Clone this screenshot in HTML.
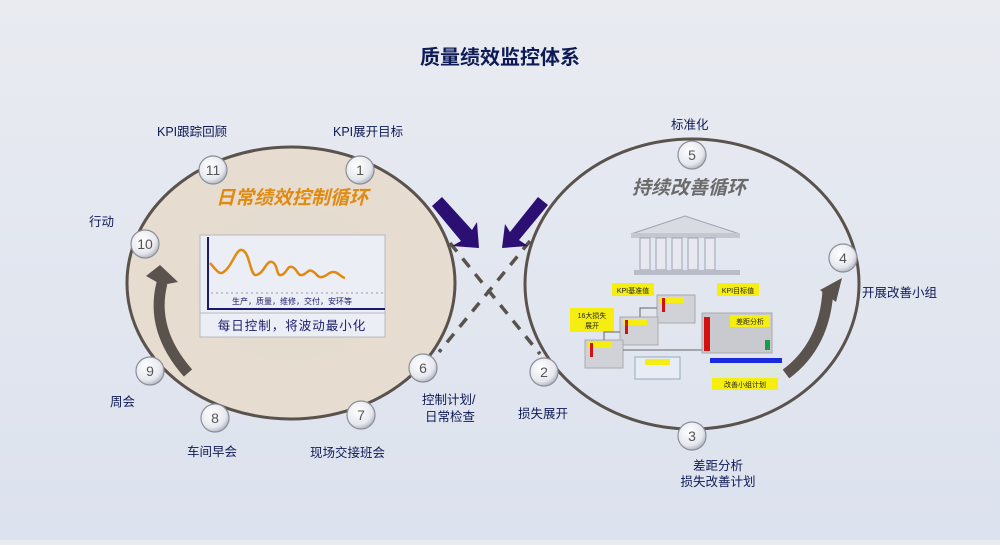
<!DOCTYPE html>
<html><head><meta charset="utf-8"><style>
html,body{margin:0;padding:0}
body{width:1000px;height:540px;overflow:hidden;background:linear-gradient(#e9ebf1,#dce2ee);}
svg text{font-family:"Liberation Sans","Noto Sans CJK SC",sans-serif;}
</style></head><body>
<svg width="1000" height="540" viewBox="0 0 1000 540" xmlns="http://www.w3.org/2000/svg">
<defs>
<radialGradient id="nd" cx="0.4" cy="0.35" r="0.7"><stop offset="0" stop-color="#ffffff"/><stop offset="0.7" stop-color="#e6e8ee"/><stop offset="1" stop-color="#a9adb8"/></radialGradient>
<radialGradient id="lf" cx="0.5" cy="0.5" r="0.6"><stop offset="0" stop-color="#e3dbd1"/><stop offset="1" stop-color="#e8ddd0"/></radialGradient>
</defs>
<text x="500" y="64" text-anchor="middle" font-size="20" font-weight="bold" fill="#0d1a55">质量绩效监控体系</text>

<ellipse cx="291" cy="283" rx="164" ry="136" fill="url(#lf)" stroke="#5a524c" stroke-width="3"/>
<ellipse cx="692" cy="284" rx="167" ry="145" fill="none" stroke="#5a524c" stroke-width="3"/>

<g stroke="#5a524c" stroke-width="3.5" stroke-dasharray="11,9" fill="none">
<line x1="450" y1="243" x2="540" y2="354"/>
<line x1="530" y1="241" x2="439" y2="352"/>
</g>
<g fill="#2c0f73">
<polygon points="432,206 442,197 472,230 477,222 479,248 452,246 461,241"/>
<polygon points="548,205 538,197 510,232 505,224 502,248 528,246 519,240"/>
</g>

<path d="M188,373 Q150,330 162,283" stroke="#5a524c" stroke-width="11" fill="none"/>
<polygon points="146,276 160,265 178,282 162,285" fill="#5a524c"/>
<path d="M786,374 Q825,345 828,290" stroke="#5a524c" stroke-width="11" fill="none"/>
<polygon points="820,290 842,278 836,302" fill="#5a524c"/>

<text x="292" y="204" text-anchor="middle" font-size="19" font-weight="bold" font-style="italic" fill="#e08a10">日常绩效控制循环</text>
<text x="689" y="194" text-anchor="middle" font-size="19" font-weight="bold" font-style="italic" fill="#6a6a6a">持续改善循环</text>

<rect x="200" y="235" width="185" height="78" fill="#eceef6" stroke="#b8b8c0"/>
<polyline points="208,237 208,309 385,309" fill="none" stroke="#1a1a6e" stroke-width="2"/>
<line x1="211" y1="293" x2="383" y2="293" stroke="#9a9aa8" stroke-dasharray="2,3"/>
<path d="M210,263 C216,270 219,274 222,273 C232,268 236,248 242,250 C250,252 250,276 256,275 C264,274 266,260 272,262 C278,264 276,276 281,275 C287,274 287,265 292,267 C298,269 297,276 302,275 C307,274 308,269 312,271 C317,273 317,278 322,277 C327,276 329,272 333,272 C339,272 340,277 345,278" fill="none" stroke="#e08a10" stroke-width="2.5"/>
<text x="292" y="304" text-anchor="middle" font-size="8" fill="#1a1a6e">生产，质量，维修，交付，安环等</text>
<rect x="200" y="313" width="185" height="24" fill="#eceef6" stroke="#b8b8c0"/>
<text x="292" y="330" text-anchor="middle" font-size="12.5" fill="#1a1a6e" letter-spacing="1">每日控制，将波动最小化</text>

<g>
<polygon points="631,234 685,216 740,234" fill="#d9dbe2" stroke="#a0a4b0"/>
<rect x="631" y="233" width="109" height="5" fill="#c4c7d0"/>
<rect x="640" y="238" width="10" height="32" fill="#e8e9f0" stroke="#9ea3b0"/>
<rect x="656" y="238" width="10" height="32" fill="#e8e9f0" stroke="#9ea3b0"/>
<rect x="672" y="238" width="10" height="32" fill="#e8e9f0" stroke="#9ea3b0"/>
<rect x="688" y="238" width="10" height="32" fill="#e8e9f0" stroke="#9ea3b0"/>
<rect x="705" y="238" width="10" height="32" fill="#e8e9f0" stroke="#9ea3b0"/>
<rect x="634" y="270" width="106" height="5" fill="#b8bcc6"/>
</g>
<g font-size="7" fill="#222" text-anchor="middle">
<rect x="612" y="283" width="42" height="13" fill="#f5ee10"/><text x="633" y="293">KPI基准值</text>
<rect x="717" y="283" width="42" height="13" fill="#f5ee10"/><text x="738" y="293">KPI目标值</text>
<rect x="570" y="308" width="44" height="24" fill="#f5ee10"/><text x="592" y="318">16大损失</text><text x="592" y="328">展开</text>
<rect x="657" y="295" width="38" height="28" fill="#d0d2d8" stroke="#aaa"/><rect x="660" y="297" width="24" height="6" fill="#f5ee10"/>
<rect x="620" y="317" width="38" height="28" fill="#d0d2d8" stroke="#aaa"/><rect x="623" y="319" width="24" height="6" fill="#f5ee10"/>
<rect x="585" y="340" width="38" height="28" fill="#d0d2d8" stroke="#aaa"/><rect x="588" y="342" width="24" height="6" fill="#f5ee10"/>
<rect x="662" y="298" width="3" height="14" fill="#d41010"/><rect x="625" y="320" width="3" height="14" fill="#d41010"/><rect x="590" y="343" width="3" height="14" fill="#d41010"/>
<polyline points="640,317 640,308 657,308" fill="none" stroke="#666"/>
<polyline points="604,340 604,332 620,332" fill="none" stroke="#666"/>
<line x1="623" y1="350" x2="702" y2="350" stroke="#666"/>
<rect x="635" y="357" width="45" height="22" fill="#e8ecf4" stroke="#9ab"/><rect x="645" y="359" width="25" height="6" fill="#f5ee10"/>
<rect x="702" y="313" width="70" height="40" fill="#c8cad0" stroke="#aaa"/><rect x="704" y="317" width="6" height="34" fill="#d41010"/><rect x="765" y="340" width="5" height="10" fill="#1a9a4a"/>
<rect x="730" y="315" width="40" height="12" fill="#f5ee10"/><text x="750" y="324">差距分析</text>
<rect x="710" y="358" width="72" height="5" fill="#1a2ae0"/>
<rect x="710" y="363" width="72" height="15" fill="#dfe8de"/>
<rect x="712" y="378" width="66" height="12" fill="#f5ee10"/><text x="745" y="387">改善小组计划</text>
</g>

<g font-size="14" fill="#555" text-anchor="middle">
<g stroke="#8a8e98" stroke-width="1.2" fill="url(#nd)">
<circle cx="213" cy="170" r="14"/><circle cx="360" cy="170" r="14"/><circle cx="145" cy="244" r="14"/>
<circle cx="150" cy="371" r="14"/><circle cx="215" cy="418" r="14"/><circle cx="361" cy="415" r="14"/>
<circle cx="423" cy="368" r="14"/><circle cx="692" cy="155" r="14"/><circle cx="843" cy="258" r="14"/>
<circle cx="692" cy="436" r="14"/><circle cx="544" cy="372" r="14"/>
</g>
<text x="213" y="175">11</text><text x="360" y="175">1</text><text x="145" y="249">10</text>
<text x="150" y="376">9</text><text x="215" y="423">8</text><text x="361" y="420">7</text>
<text x="423" y="373">6</text><text x="692" y="160">5</text><text x="843" y="263">4</text>
<text x="692" y="441">3</text><text x="544" y="377">2</text>
</g>

<g font-size="12.5" fill="#0d1a55">
<text x="157" y="136">KPI跟踪回顾</text>
<text x="333" y="136">KPI展开目标</text>
<text x="89" y="226">行动</text>
<text x="110" y="406">周会</text>
<text x="187" y="456">车间早会</text>
<text x="310" y="457">现场交接班会</text>
<text x="422" y="404">控制计划/</text>
<text x="425" y="421">日常检查</text>
<text x="671" y="129">标准化</text>
<text x="862" y="297">开展改善小组</text>
<text x="518" y="418">损失展开</text>
<text x="718" y="470" text-anchor="middle">差距分析</text>
<text x="718" y="486" text-anchor="middle">损失改善计划</text>
</g>
</svg>
</body></html>
